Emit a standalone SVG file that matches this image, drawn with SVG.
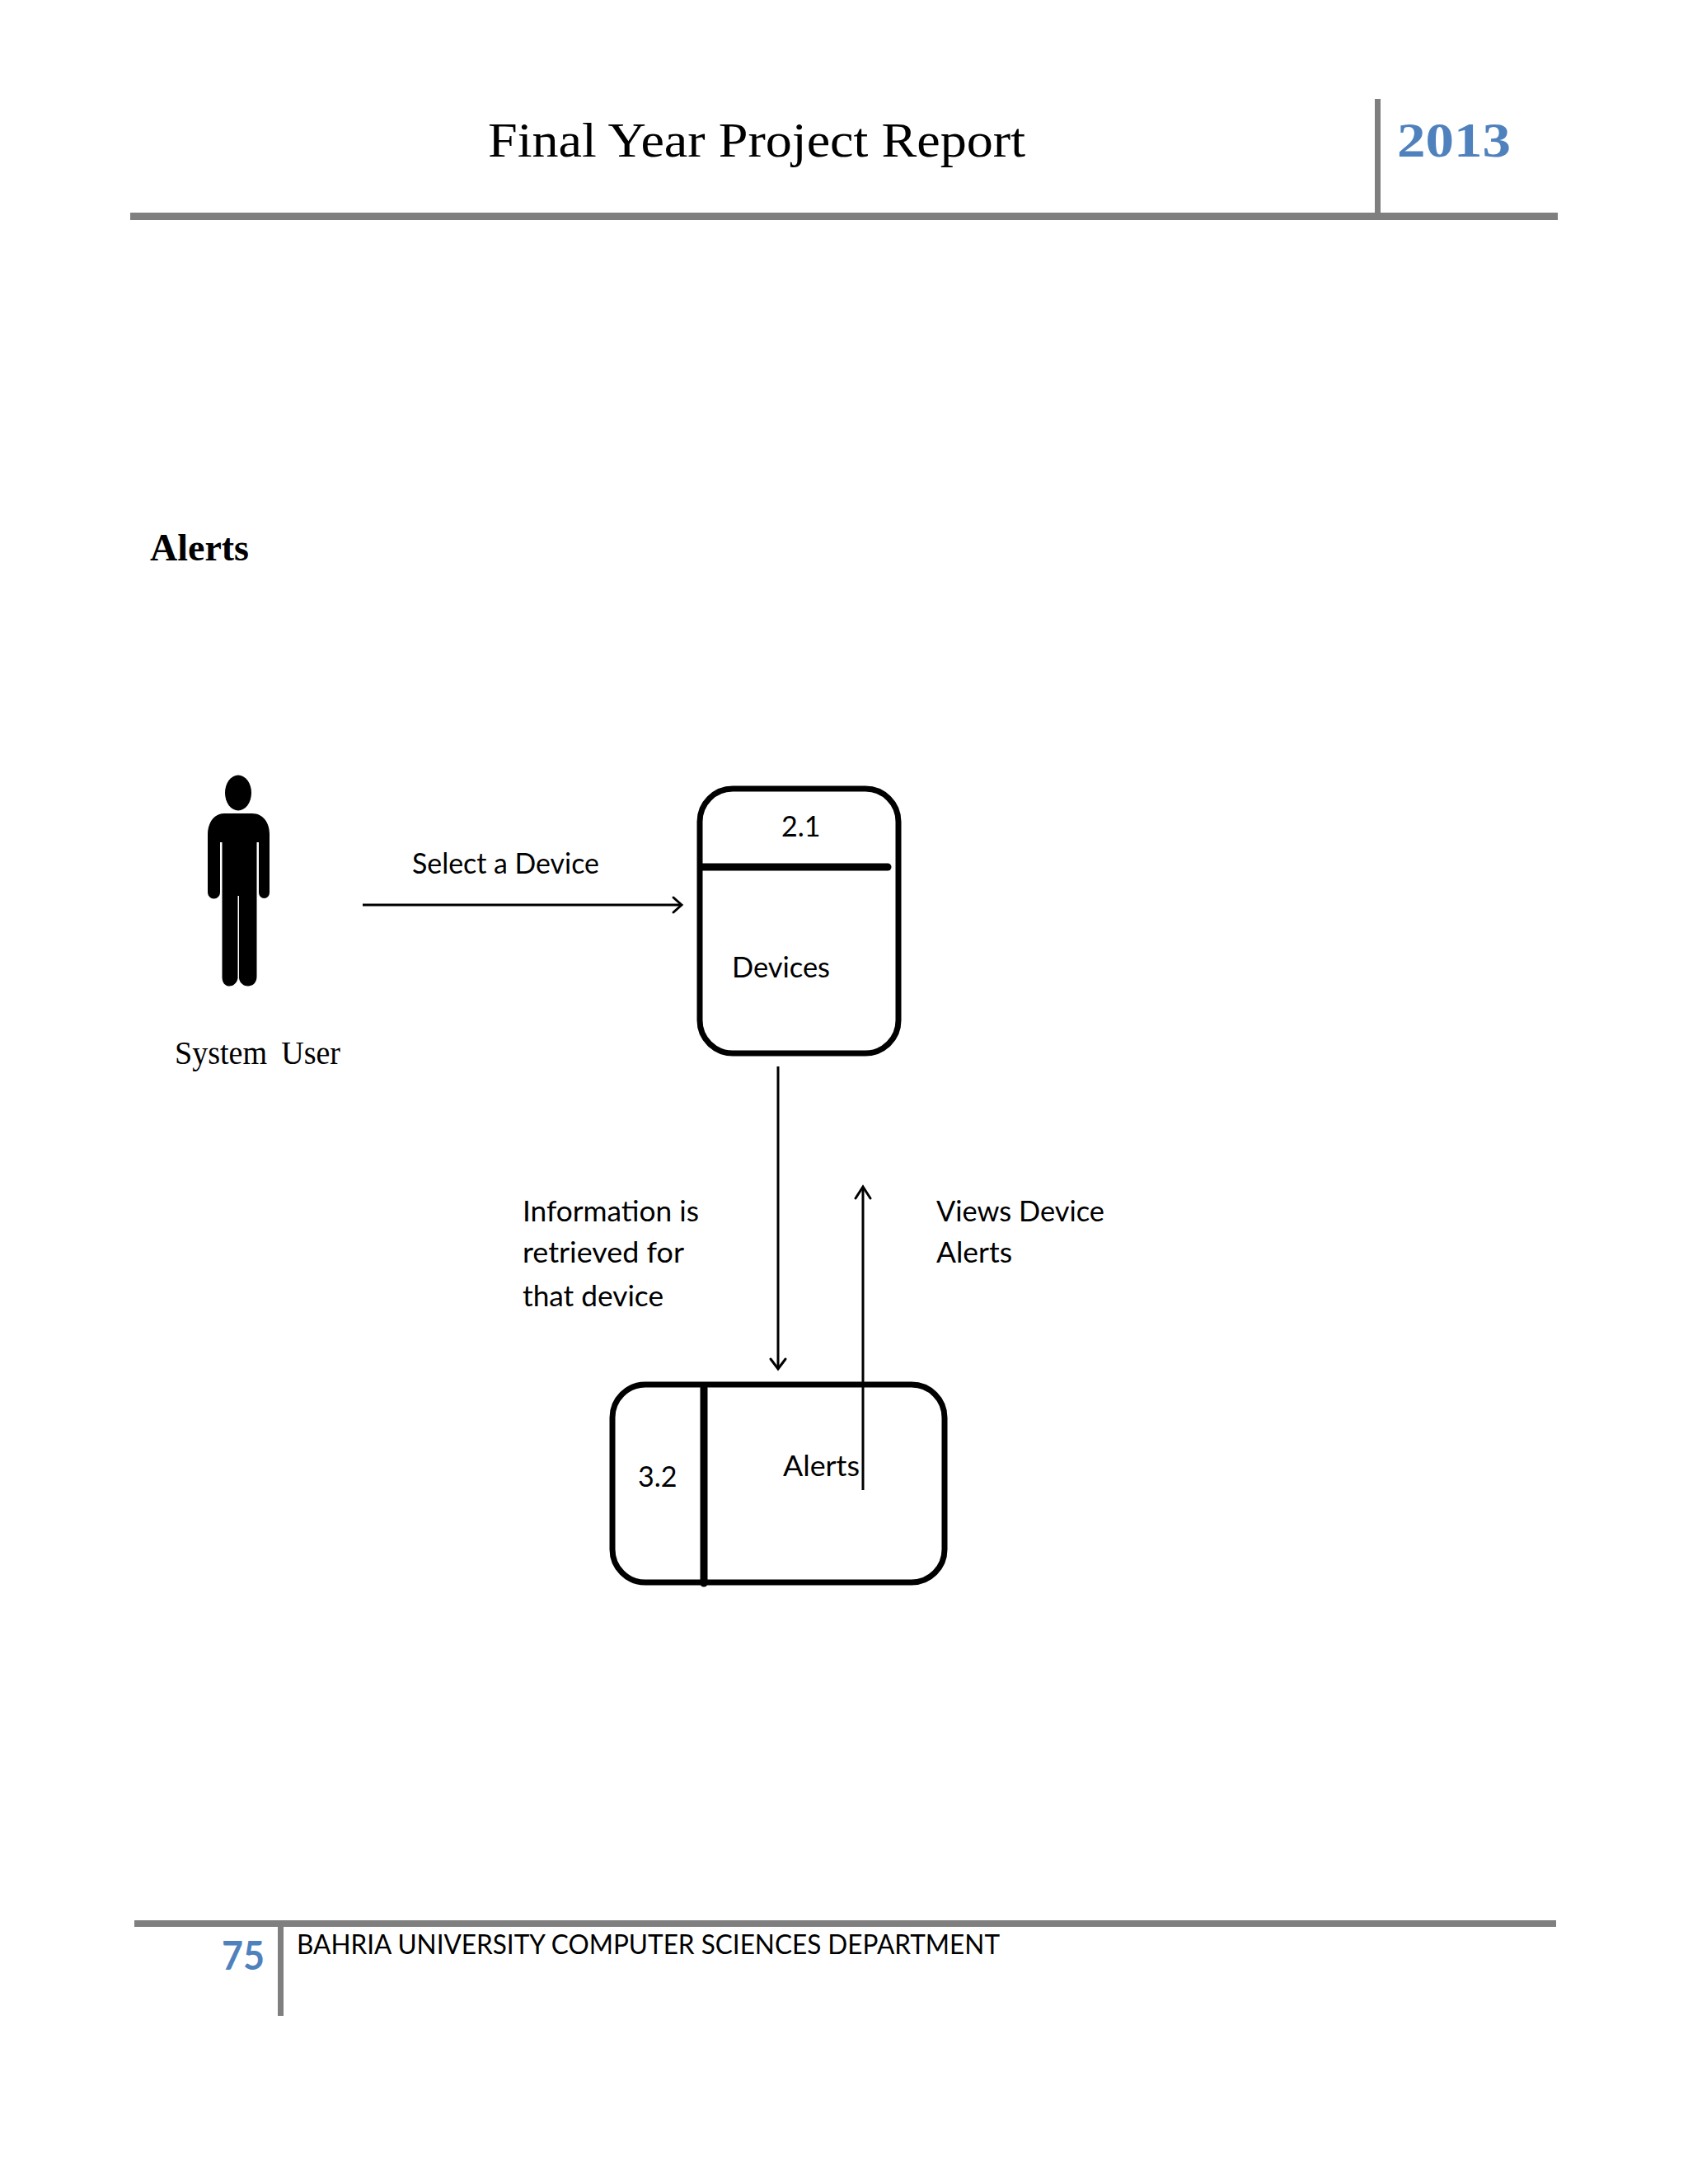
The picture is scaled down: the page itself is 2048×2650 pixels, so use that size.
<svg xmlns="http://www.w3.org/2000/svg" width="2048" height="2650" viewBox="0 0 2048 2650">
<style>
.rule{fill:#7f7f7f}
.lab{font-family:Lato,"Liberation Sans",sans-serif;font-size:34px;fill:#000}
.ser{font-family:"Liberation Serif",serif;fill:#000}
.box{fill:none;stroke:#000;stroke-width:7}
.div{stroke:#000;stroke-width:9;stroke-linecap:round}
.con{fill:none;stroke:#000;stroke-width:3}
.head{fill:none;stroke:#000;stroke-width:3;stroke-linecap:round}
.blue{fill:#4f81bd;font-weight:bold}
</style>
<rect width="2048" height="2650" fill="#fff"/>
<g id="header">
<rect class="rule" x="158" y="258" width="1732" height="9"/>
<rect class="rule" x="1668" y="120" width="7" height="140"/>
<text class="ser" x="592" y="190" font-size="60" textLength="652" lengthAdjust="spacingAndGlyphs">Final Year Project Report</text>
<text class="ser blue" x="1695" y="190" font-size="60" textLength="138" lengthAdjust="spacingAndGlyphs">2013</text>
</g>
<text id="heading" class="ser" x="182" y="680" font-size="46" font-weight="bold" textLength="120" lengthAdjust="spacingAndGlyphs">Alerts</text>
<g id="system-user">
<ellipse cx="289" cy="962" rx="16" ry="21.500"/>
<path d="M272 987H306C319 987 327 998 327 1012V1083A6.500 7 0 0 1 314 1083V1022H311.500V1185C311.500 1200 292 1200 290 1187V1087H288.500V1187C286 1200 269 1200 269.500 1185V1022H267V1083A7 7 0 0 1 252 1083V1012C252 998 260 987 272 987Z"/>
<text class="ser" x="212" y="1291" font-size="40" word-spacing="8" textLength="201" lengthAdjust="spacingAndGlyphs">System  User</text>
</g>
<g id="devices">
<rect class="box" x="849" y="957" width="241" height="321" rx="40"/>
<line class="div" x1="851" y1="1052" x2="1077" y2="1052"/>
<text class="lab" x="948" y="1015">2.1</text>
<text class="lab" x="888" y="1186" textLength="119" lengthAdjust="spacingAndGlyphs">Devices</text>
</g>
<g id="alerts">
<rect class="box" x="743" y="1680" width="403" height="240" rx="40"/>
<line class="div" x1="854" y1="1684" x2="854" y2="1921"/>
<text class="lab" x="774" y="1804">3.2</text>
<text class="lab" x="950" y="1791" textLength="93" lengthAdjust="spacingAndGlyphs">Alerts</text>
</g>
<g id="connectors">
<line class="con" x1="440" y1="1098" x2="827" y2="1098"/>
<path class="head" d="M817 1089L827 1098L817 1107"/>
<line class="con" x1="944" y1="1294" x2="944" y2="1660"/>
<path class="head" d="M935 1649L944 1661L953 1649"/>
<line class="con" x1="1047" y1="1440" x2="1047" y2="1808"/>
<path class="head" d="M1038 1454L1047 1440L1056 1454"/>
</g>
<g id="labels">
<text class="lab" x="500" y="1060" textLength="227" lengthAdjust="spacingAndGlyphs">Select a Device</text>
<text class="lab" x="634" y="1482" textLength="214" lengthAdjust="spacingAndGlyphs">Information is</text>
<text class="lab" x="634" y="1532" textLength="196" lengthAdjust="spacingAndGlyphs">retrieved for</text>
<text class="lab" x="634" y="1585" textLength="171" lengthAdjust="spacingAndGlyphs">that device</text>
<text class="lab" x="1136" y="1482" textLength="204" lengthAdjust="spacingAndGlyphs">Views Device</text>
<text class="lab" x="1136" y="1532" textLength="92" lengthAdjust="spacingAndGlyphs">Alerts</text>
</g>
<g id="footer">
<rect class="rule" x="163" y="2330" width="1725" height="8"/>
<rect class="rule" x="337" y="2336" width="7" height="110"/>
<text class="blue" x="269" y="2390" font-family="Lato,'Liberation Sans',sans-serif" font-size="47" textLength="52" lengthAdjust="spacingAndGlyphs">75</text>
<text x="360" y="2371" font-family="Lato,'Liberation Sans',sans-serif" font-size="33" textLength="853" lengthAdjust="spacingAndGlyphs">BAHRIA UNIVERSITY COMPUTER  SCIENCES DEPARTMENT</text>
</g>
</svg>
